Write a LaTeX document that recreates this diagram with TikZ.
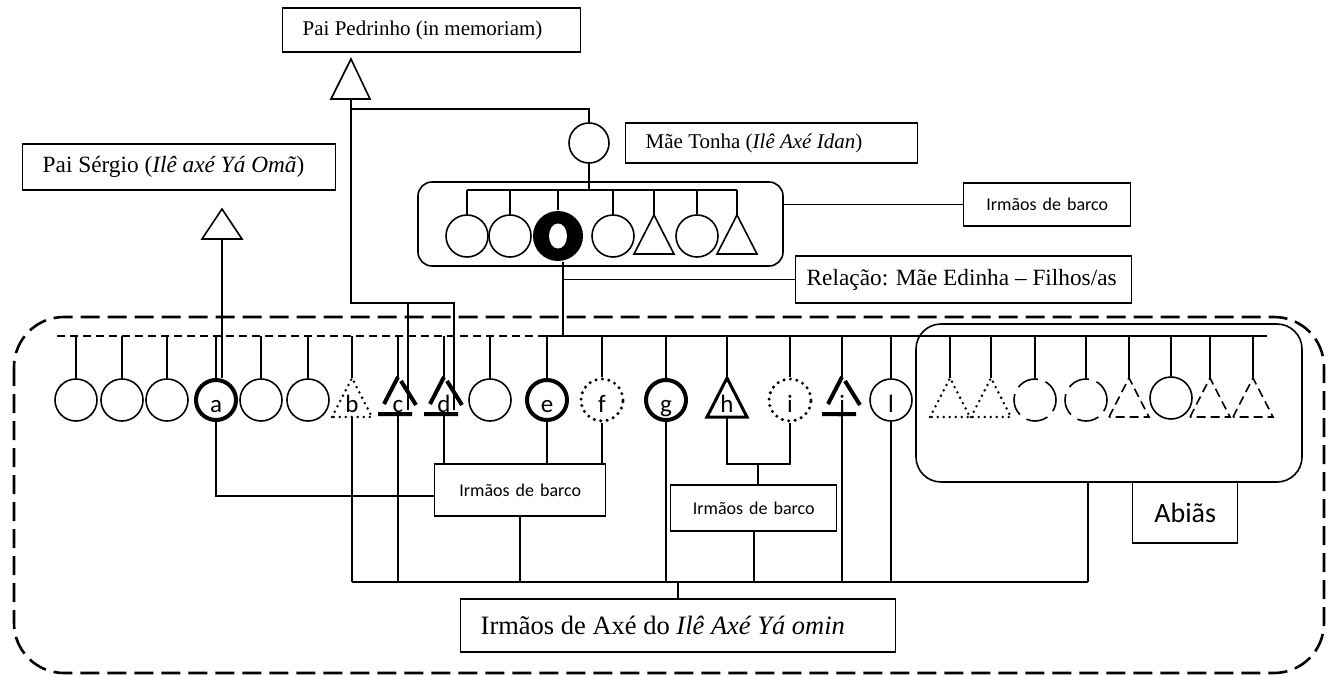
\documentclass[tikz,border=0pt]{standalone}
\usepackage{fontspec}
\setmainfont{Liberation Serif}
\newfontfamily\calib{Carlito}
\usepackage{tikz}
\usetikzlibrary{shapes,positioning,calc}

\newcommand{\fsz}[1]{\fontsize{#1}{#1}\selectfont}
\newcommand{\lbox}[2]{\makebox[#1][l]{#2}}

\tikzset{
  lett/.style={font=\calib\fsz{25}, inner sep=0pt, text height=24pt, text depth=0pt},
  pers/.style={circle, draw, minimum size=42pt, inner sep=0pt, lett},
  persb/.style={pers, line width=4pt, minimum size=40pt},
  persdot/.style={pers, line width=3.4pt, dash pattern=on 0pt off 6.5pt, line cap=round},
  persdash/.style={pers, dash pattern=on 22pt off 8pt},
  tridot/.style={line width=2.8pt, dash pattern=on 0pt off 6pt, line cap=round},
  tridash/.style={dash pattern=on 9pt off 5pt},
  pics/tri/.style={code={
      \draw[pic actions] (-20,17) -- (0,-22) -- (20,17) -- cycle;
      \coordinate (-top) at (0,-22);
      \coordinate (-bot) at (0,17);
      \node[lett] (-txt) at (0,0) {#1};
  }},
  pics/btri/.style={code={
      \draw[line width=4pt] (-14,4) -- (0,-23) (3,-19) -- (18,5) (-20,14) -- (14,14);
      \coordinate (-top) at (0,-23);
      \coordinate (-bot) at (0,14);
      \coordinate (-side) at (10,10);
      \node[lett] (-txt) at (0,0) {#1};
  }},
  sbox/.style={draw, line width=1.4pt, anchor=west, inner xsep=20pt, inner ysep=0pt},
  cbox/.style={draw, line width=1.4pt, anchor=west, align=center, inner xsep=0pt, inner ysep=0pt, font=\calib\fsz{18}},
}

\begin{document}
\begin{tikzpicture}[x=1pt, y=-1pt, line width=1.6pt]
    \useasboundingbox (0,0) rectangle (1334,677);

    % Outer group (dashed)
    \draw[line width=2.6pt, dash pattern=on 19pt off 8pt, rounded corners=50pt] (14,317) rectangle (1324,673);

    % Text boxes
    \node[sbox, minimum height=44pt, font=\fsz{21}] (pedrinho) at (282,30) {\lbox{258pt}{Pai Pedrinho (in memoriam)}};
    \node[sbox, minimum height=46pt, font=\fsz{23.3}] (sergio) at (22,167) {\lbox{273pt}{Pai Sérgio (\textit{Ilê axé Yá Omã})}};
    \node[sbox, minimum height=40pt, font=\fsz{21}] (tonhabox) at (625,143) {\lbox{252pt}{Mãe Tonha (\textit{Ilê Axé Idan})}};
    \node[sbox, inner xsep=11pt, minimum height=47pt, font=\fsz{23.3}] (relacao) at (795,279.5) {\lbox{314pt}{Relação: Mãe Edinha – Filhos/as}};
    \node[sbox, minimum height=53pt, font=\fsz{26.5}] (axe) at (460,625.5) {\lbox{395pt}{Irmãos de Axé do \textit{Ilê Axé Yá omin}}};
    \node[cbox, text width=167pt, minimum height=43pt] (barco1) at (963,204.5) {Irmãos de barco};
    \node[cbox, text width=171pt, minimum height=52pt] (barco2) at (434,490) {Irmãos de barco};
    \node[cbox, text width=166pt, minimum height=46pt] (barco3) at (670,508) {Irmãos de barco};

    % Fathers (triangles)
    \draw (331,99) -- (351,59) -- (370,99) -- cycle; \coordinate (ped-bot) at (351,99);
    \draw (202,239) -- (222,209) -- (242,239) -- cycle; \coordinate (ser-bot) at (222,239);

    % Mae Tonha and her barco
    \node[pers, minimum size=40pt] (tonha) at (589,143) {};
    \node[draw, rounded corners=14pt, minimum width=365pt, minimum height=84pt] (grp) at (600.5,224) {};
    \node[pers] (u1) at (467,236) {};
    \node[pers] (u2) at (510,236) {};
    \node[circle, fill, minimum size=50pt, inner sep=0pt] (edinha) at (558,236) {};
    \fill[white] (edinha.center) ellipse (9 and 12.5);
    \node[pers] (u4) at (613,236) {};
    \pic (u5) at (654,237) {tri={}};
    \node[pers] (u6) at (697,236) {};
    \pic (u7) at (737,237) {tri={}};

    \coordinate (sib) at (467,190);
    \draw (sib) -- (sib -| u7-top);
    \draw (tonha.south) -- (tonha.south |- sib);
    \foreach \p in {u1.north, u2.north, edinha.north, u4.north, u5-top, u6.north, u7-top}
        \draw (\p) -- (\p |- sib);
    \draw (grp.east |- barco1.west) -- (barco1.west);

    % Filhos/as of Mae Edinha
    \node[pers] (p1) at (76,400) {};
    \node[pers] (p2) at (122,400) {};
    \node[pers] (p3) at (167,400) {};
    \node[persb] (a) at (216,400) {a};
    \node[pers] (p5) at (261,400) {};
    \node[pers] (p6) at (308,400) {};
    \pic[tridot] (b) at (352,400) {tri=b};
    \pic (c) at (398,400) {btri=c};
    \pic (d) at (444,400) {btri=d};
    \node[pers] (p7) at (490,400) {};
    \node[persb] (e) at (547,400) {e};
    \node[persdot] (f) at (602,400) {f};
    \node[persb] (g) at (666,400) {g};
    \pic[line width=3pt] (h) at (727,400) {tri=h};
    \node[persdot] (i) at (790,400) {i};
    \pic (j) at (842,400) {btri=j};
    \node[pers] (l) at (891,400) {l};

    % Abias
    \node[draw, rounded corners=25pt, minimum width=386pt, minimum height=158pt] (abgrp) at (1109,403) {};
    \node[cbox, text width=105pt, minimum height=61pt, font=\calib\fsz{28}] (abias) at (1132,512.5) {Abiãs};
    \pic[tridot] (k1) at (950,400) {tri={}};
    \pic[tridot] (k2) at (991,400) {tri={}};
    \node[persdash] (k3) at (1035,400) {};
    \node[persdash] (k4) at (1086,400) {};
    \pic[tridash] (k5) at (1129,400) {tri={}};
    \node[pers] (k6) at (1171,398) {};
    \pic[tridash] (k7) at (1210,400) {tri={}};
    \pic[tridash] (k8) at (1253,400) {tri={}};

    % Sibling line
    \coordinate (barL) at (57,336);
    \coordinate (barM) at (540,336);
    \coordinate (barR) at (1267,336);
    \draw[line width=1.4pt, dash pattern=on 8pt off 5pt] (barL) -- (barM);
    \draw[line width=2pt] (barM) -- (barR);
    \foreach \p in {p1.north, p2.north, p3.north, a.north, p5.north, p6.north, b-top, c-top, d-top, p7.north, e.north, f.north, g.north, h-top, i.north, j-top, l.north, k1-top, k2-top, k3.north, k4.north, k5-top, k6.north, k7-top, k8-top}
        \draw (\p) -- (\p |- barL);

    % Parents links
    \coordinate (ptop) at (351,109);
    \coordinate (pjoin) at (351,303);
    \draw (ped-bot) -- (pjoin) -| (d-side);
    \draw (c-side) -- (c-side |- pjoin);
    \draw (ptop) -| (tonha.north);
    \draw (ser-bot) -- (ser-bot |- a.north);
    \coordinate (ed) at ([xshift=5pt]edinha.south);
    \draw (ed) -- (ed |- barL);
    \draw (ed |- relacao.west) -- (relacao.west);

    % Irmaos de barco
    \draw (a.south) |- ([yshift=-6pt]barco2.west);
    \draw (d-bot) -- (d-bot |- barco2.north);
    \draw (e.south) -- (e.south |- barco2.north);
    \draw (f.south) -- (f.south |- barco2.north);
    \coordinate (hij) at (758,464);
    \draw (h-bot) |- (hij) -| (i.south);
    \draw (hij) -- (hij |- barco3.north);

    % Irmaos de Axe
    \coordinate (botL) at (352,582);
    \coordinate (botR) at (1088,582);
    \draw (botL) -- (botR);
    \foreach \p in {b-bot, c-bot, barco2.south, g.south, barco3.south, j-bot, l.south}
        \draw (\p) -- (\p |- botL);
    \draw (botR) -- (botR |- abgrp.south);
    \draw (axe.north) -- (axe.north |- botL);
\end{tikzpicture}
\end{document}
